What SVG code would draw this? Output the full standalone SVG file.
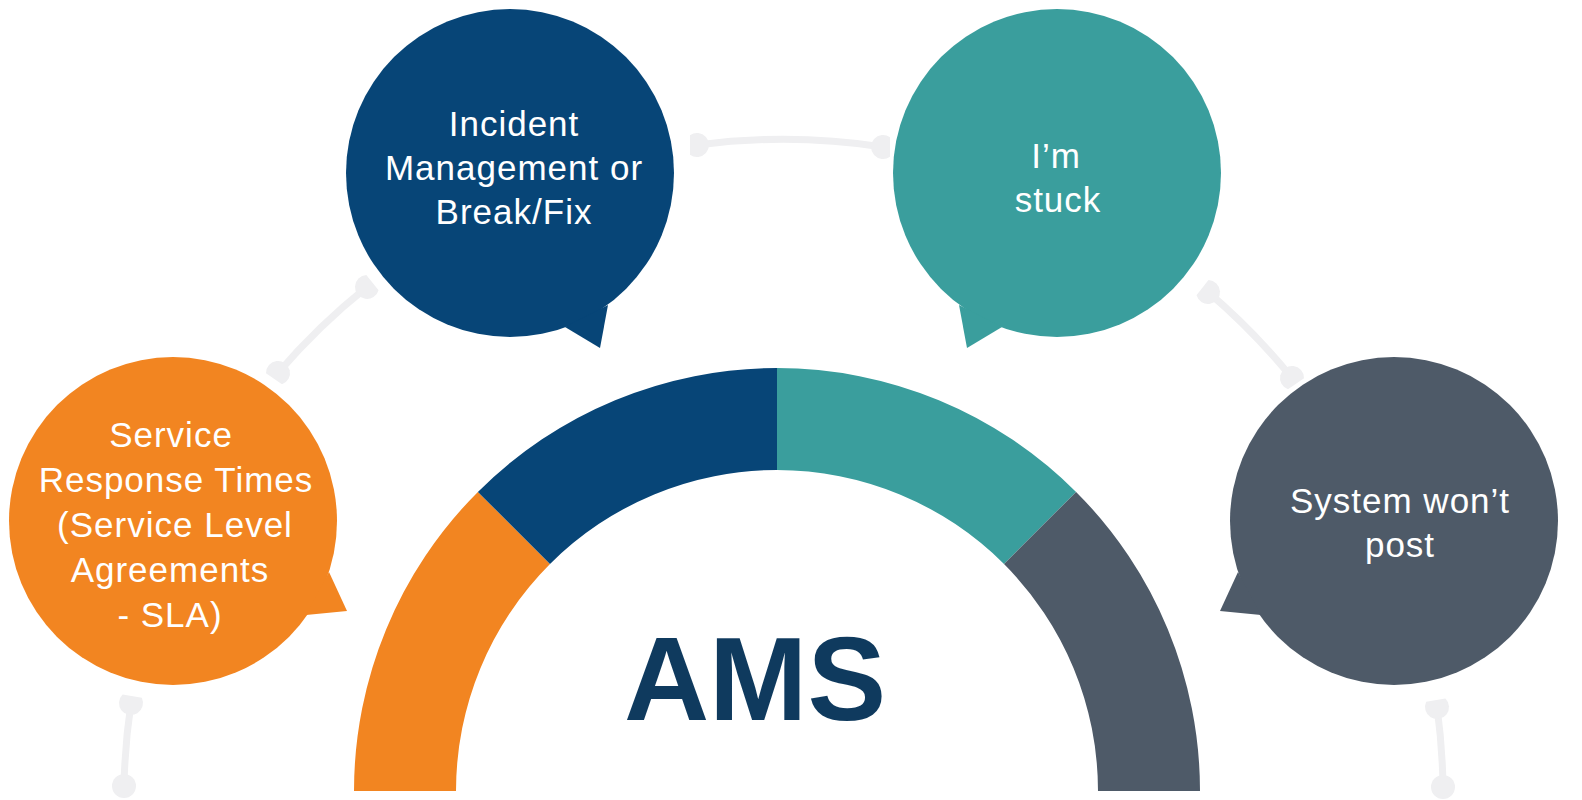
<svg xmlns="http://www.w3.org/2000/svg" xmlns:xlink="http://www.w3.org/1999/xlink" width="1582" height="800" viewBox="0 0 1582 800">
<style>
.lbl{font-family:"Liberation Sans",Arial,sans-serif;font-size:35px;fill:#ffffff;text-anchor:middle;letter-spacing:1px}
.ams{font-family:"Liberation Sans",Arial,sans-serif;font-size:118px;font-weight:bold;fill:#0f3a5e;text-anchor:middle}
.conn{fill:none;stroke:#efeff1;stroke-width:7}
.blob{fill:#efeff1}
.orange{fill:#f28521}
.navy{fill:#074577}
.teal{fill:#3a9e9d}
.slate{fill:#4e5a68}
</style>
<defs>
<path id="dblob" d="M7 -9.75 A12 12 0 1 0 7 9.75 Z"/>
</defs>
<rect width="1582" height="800" fill="#ffffff"/>
<g id="connectors">
<path class="conn" d="M124 786 A654 654 0 0 1 131 703"/>
<path class="conn" d="M278 373 A654 654 0 0 1 367 287"/>
<path class="conn" d="M697 145 A654 654 0 0 1 883 147"/>
<path class="conn" d="M1208 292 A654 654 0 0 1 1292 378"/>
<path class="conn" d="M1437 707 A654 654 0 0 1 1443 787"/>
<circle class="blob" cx="124" cy="786" r="12"/>
<circle class="blob" cx="1443" cy="787" r="12"/>
<use xlink:href="#dblob" class="blob" transform="translate(131 703) rotate(-80)"/>
<use xlink:href="#dblob" class="blob" transform="translate(367 287) rotate(-39)"/>
<use xlink:href="#dblob" class="blob" transform="translate(278 373) rotate(125)"/>
<use xlink:href="#dblob" class="blob" transform="translate(697 145) rotate(180)"/>
<use xlink:href="#dblob" class="blob" transform="translate(883 147) rotate(0)"/>
<use xlink:href="#dblob" class="blob" transform="translate(1208 292) rotate(-142)"/>
<use xlink:href="#dblob" class="blob" transform="translate(1292 378) rotate(55)"/>
<use xlink:href="#dblob" class="blob" transform="translate(1437 707) rotate(-100)"/>
</g>
<g id="gauge">
<path class="orange" d="M354 791 A423 423 0 0 1 477.9 491.9 L550 564 A321 321 0 0 0 456 791 Z"/>
<path class="navy" d="M477.9 491.9 A423 423 0 0 1 777 368 L777 470 A321 321 0 0 0 550 564 Z"/>
<path class="teal" d="M777 368 A423 423 0 0 1 1076.1 491.9 L1004 564 A321 321 0 0 0 777 470 Z"/>
<path class="slate" d="M1076.1 491.9 A423 423 0 0 1 1200 791 L1098 791 A321 321 0 0 0 1004 564 Z"/>
<text class="ams" x="755" y="720">AMS</text>
</g>
<g id="node-incident">
<circle class="navy" cx="510" cy="173" r="164"/>
<polygon class="navy" points="565,327 600,348 608,305"/>
<text class="lbl" x="514" y="136">Incident</text>
<text class="lbl" x="514" y="180">Management or</text>
<text class="lbl" x="514" y="224">Break/Fix</text>
</g>
<g id="node-stuck">
<circle class="teal" cx="1057" cy="173" r="164"/>
<polygon class="teal" points="1002,327 967,348 959,305"/>
<text class="lbl" x="1056" y="168">I’m</text>
<text class="lbl" x="1058" y="212">stuck</text>
</g>
<g id="node-service">
<circle class="orange" cx="173" cy="521" r="164"/>
<polygon class="orange" points="329,572 347,611 306,615"/>
<text class="lbl" x="171" y="447">Service</text>
<text class="lbl" x="176" y="492">Response Times</text>
<text class="lbl" x="175" y="537">(Service Level</text>
<text class="lbl" x="170" y="582">Agreements</text>
<text class="lbl" x="170" y="627">- SLA)</text>
</g>
<g id="node-system">
<circle class="slate" cx="1394" cy="521" r="164"/>
<polygon class="slate" points="1238,572 1220,611 1261,615"/>
<text class="lbl" x="1400" y="513">System won’t</text>
<text class="lbl" x="1400" y="557">post</text>
</g>
</svg>
